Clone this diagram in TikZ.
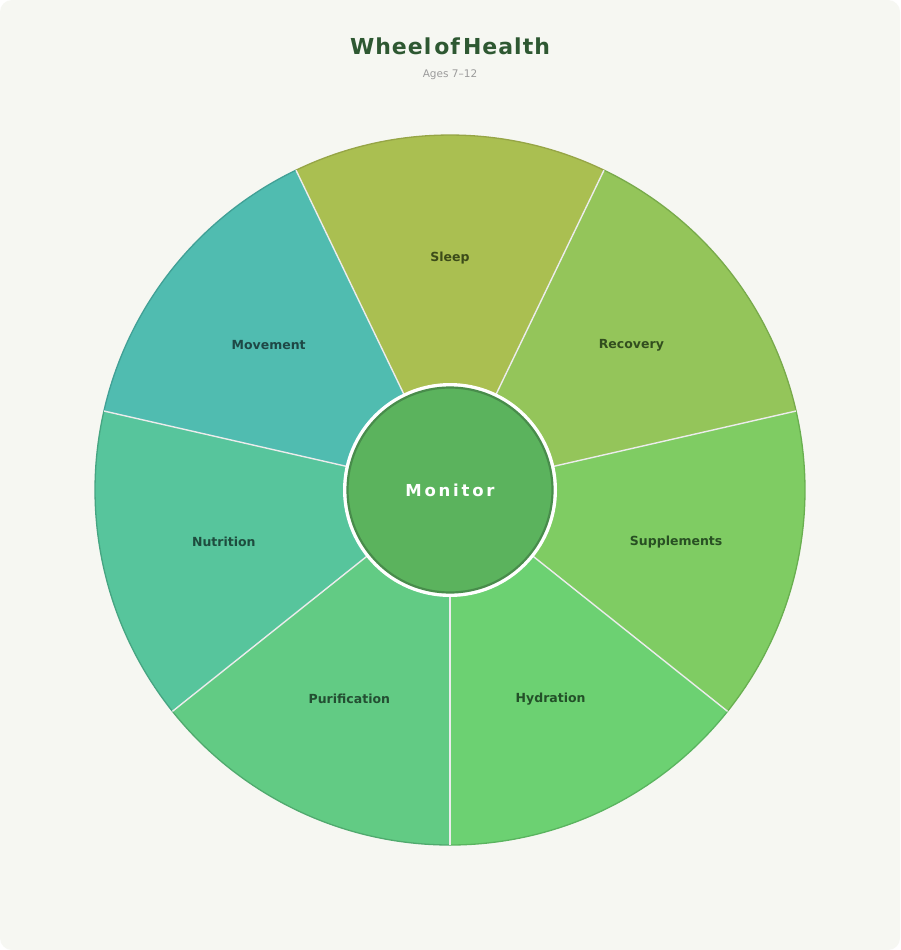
\documentclass[tikz,border=0pt]{standalone}
\usepackage{fontspec}
\setmainfont{DejaVu Sans}
\usetikzlibrary{calc}
\begin{document}
\begin{tikzpicture}[x=1pt,y=1pt,
  lbl/.style={font=\bfseries\fontsize{12.5}{14}\selectfont},
  radial/.style={draw=white!85!gray,line width=1.4pt}]
\useasboundingbox (0,-950) rectangle (900,0);
\fill[white] (0,-950) rectangle (900,0);
\fill[fill={rgb,255:red,246;green,247;blue,242},rounded corners=12pt] (0,-950) rectangle (900,0);
\coordinate (c) at (450,-490);
\def\R{355}
\foreach \a/\b/\fc/\dc in {
  64.29/115.71/{rgb,255:red,170;green,191;blue,81}/{rgb,255:red,150;green,165;blue,70},
  12.86/64.29/{rgb,255:red,148;green,197;blue,90}/{rgb,255:red,120;green,170;blue,75},
  -38.57/12.86/{rgb,255:red,127;green,204;blue,99}/{rgb,255:red,105;green,175;blue,80},
  -90/-38.57/{rgb,255:red,108;green,209;blue,114}/{rgb,255:red,90;green,180;blue,95},
  -141.43/-90/{rgb,255:red,98;green,203;blue,132}/{rgb,255:red,80;green,170;blue,110},
  167.14/218.57/{rgb,255:red,87;green,197;blue,156}/{rgb,255:red,70;green,165;blue,130},
  115.71/167.14/{rgb,255:red,80;green,188;blue,176}/{rgb,255:red,65;green,160;blue,150}}{
  \fill[fill=\fc] (c) -- ++(\a:\R) arc[start angle=\a,end angle=\b,radius=\R] -- cycle;
  \draw[draw=\dc,line width=1.3pt] ($(c)+(\a:\R)$) arc[start angle=\a,end angle=\b,radius=\R];
}
\foreach \a in {-90,-38.57,12.86,64.29,115.71,167.14,218.57}{
  \draw[radial] (c) -- ++(\a:\R);
}
\fill[white] (c) circle (107);
\node[circle,minimum size=205pt,inner sep=0pt,fill={rgb,255:red,91;green,179;blue,93},draw={rgb,255:red,72;green,140;blue,75},line width=2.2pt,text=white,font=\bfseries\fontsize{16.5}{18}\selectfont] (mon) at (c) {M\,o\,n\,i\,t\,o\,r};
\node[lbl,text={rgb,255:red,60;green,75;blue,25}] (sleep) at ($(c)+(90:232)$) {Sleep};
\node[lbl,text={rgb,255:red,50;green,78;blue,30}] (rec) at ($(c)+(38.57:232)$) {Recovery};
\node[lbl,text={rgb,255:red,40;green,80;blue,35}] (sup) at ($(c)+(-12.86:232)$) {Supplements};
\node[lbl,text={rgb,255:red,35;green,80;blue,40}] (hyd) at ($(c)+(-64.29:232)$) {Hydration};
\node[lbl,text={rgb,255:red,35;green,78;blue,50}] (pur) at ($(c)+(-115.71:232)$) {Purification};
\node[lbl,text={rgb,255:red,30;green,76;blue,62}] (nut) at ($(c)+(192.86:232)$) {Nutrition};
\node[lbl,text={rgb,255:red,30;green,72;blue,70}] (mov) at ($(c)+(141.43:232)$) {Movement};
\node[font=\bfseries\fontsize{22}{26}\selectfont,text={rgb,255:red,46;green,88;blue,50}] (title) at (450,-46) {W\kern1pt h\kern1pt e\kern1pt e\kern1pt l\kern3pt o\kern1pt f\kern3pt H\kern1pt e\kern1pt a\kern1pt l\kern1pt t\kern1pt h};
\node[font=\fontsize{10.5}{12}\selectfont,text={rgb,255:red,155;green,155;blue,155}] (sub) at (450,-75) {Ages 7–12};
\end{tikzpicture}
\end{document}
